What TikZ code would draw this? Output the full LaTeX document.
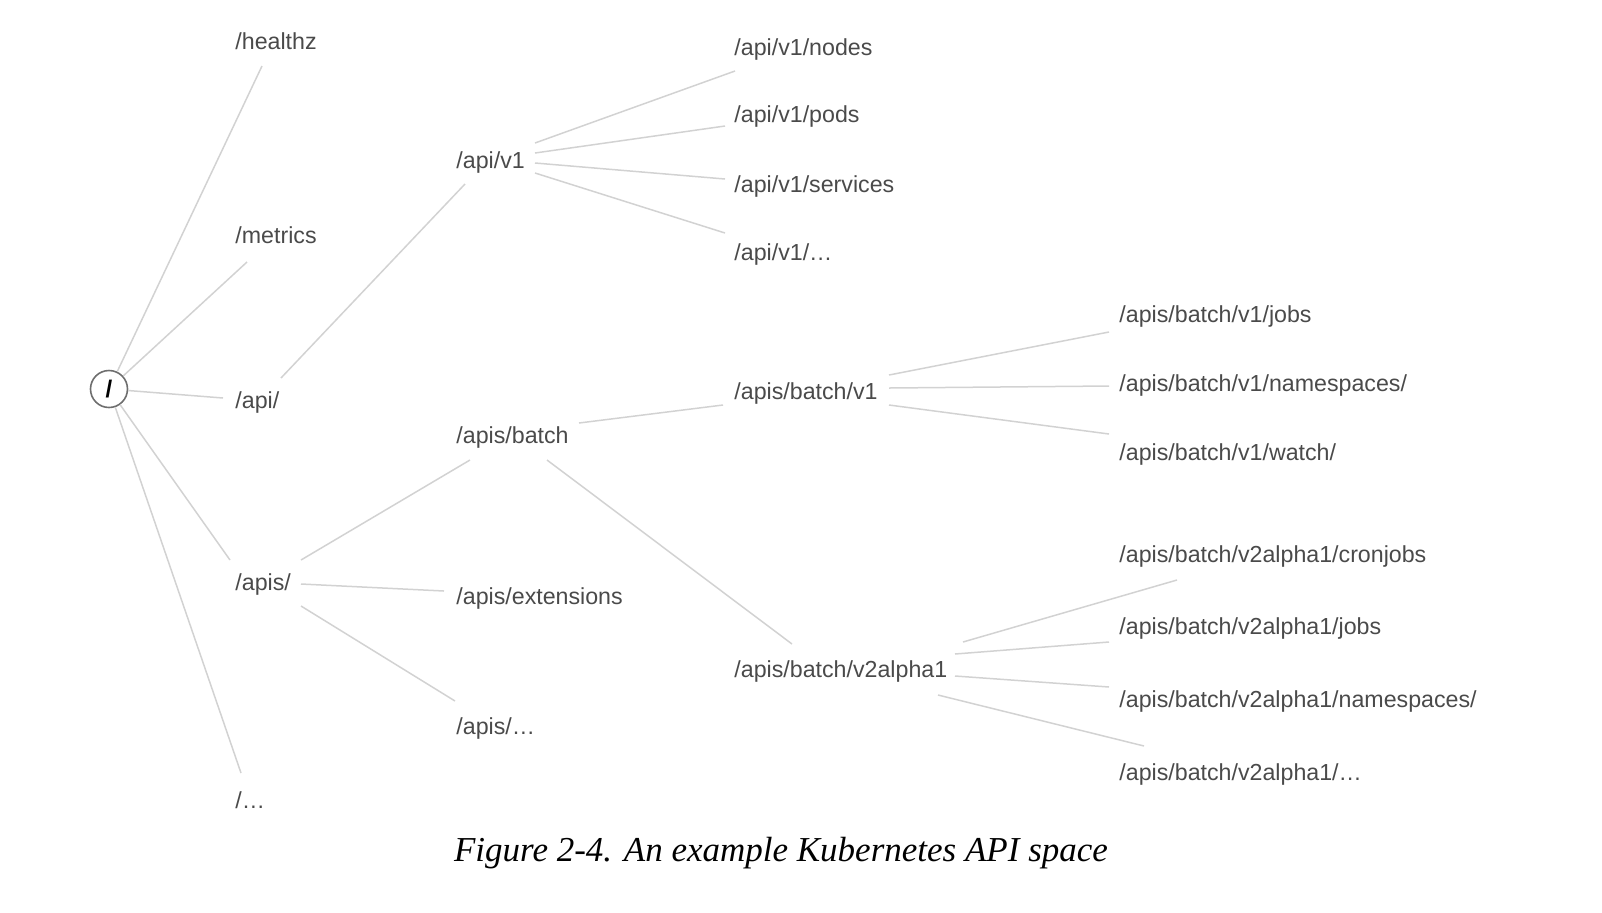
\documentclass[tikz,border=0pt]{standalone}
\usepackage{fontspec}
\setmainfont{Liberation Serif}
\setsansfont{Liberation Sans}
\usepackage{xcolor}
\definecolor{k8sink}{HTML}{4A4A4A}
\definecolor{k8sline}{HTML}{D2D2D2}
\definecolor{k8sring}{HTML}{6E6E6E}
\usepackage{tikz}
\usetikzlibrary{calc}
\tikzset{
  k8sroot/.style={draw=k8sring,line width=0.8pt,circle,fill=white,minimum size=18.5pt,inner sep=0pt,font=\sffamily\bfseries\fontsize{12}{12}\selectfont},
  k8spath/.style={anchor=base west,inner sep=0pt,text=k8sink,font=\sffamily\fontsize{11.6}{13}\selectfont},
  k8slink/.style={draw=k8sline,line width=0.75pt},
  k8scap/.style={anchor=base,inner sep=0pt,font=\itshape\fontsize{17.5}{20}\selectfont},
}

\begin{document}
\begin{tikzpicture}[x=0.5pt,y=-0.5pt]
\useasboundingbox (0,0) rectangle (1602,912);
% root and first level
\node[k8sroot] (root) at (109,389) {/};
\node[k8spath] (healthz) at (235,49) {/healthz};
\node[k8spath] (metrics) at (235,243) {/metrics};
\node[k8spath] (api) at (235,408) {/api/};
\node[k8spath] (apis) at (235,590) {/apis/};
\node[k8spath] (rootmore) at (235,808) {/\ldots};
% second level
\node[k8spath] (apiv1) at (456,168) {/api/v1};
\node[k8spath] (batch) at (456,443) {/apis/batch};
\node[k8spath] (ext) at (456,604) {/apis/extensions};
\node[k8spath] (apismore) at (456,734) {/apis/\ldots};
% third level
\node[k8spath] (nodes) at (734,55) {/api/v1/nodes};
\node[k8spath] (pods) at (734,122) {/api/v1/pods};
\node[k8spath] (services) at (734,192) {/api/v1/services};
\node[k8spath] (v1more) at (734,260) {/api/v1/\ldots};
\node[k8spath] (bv1) at (734,399) {/apis/batch/v1};
\node[k8spath] (bv2) at (734,677) {/apis/batch/v2alpha1};
% leaves
\node[k8spath] (jobs) at (1119,322) {/apis/batch/v1/jobs};
\node[k8spath] (ns) at (1119,391) {/apis/batch/v1/namespaces/};
\node[k8spath] (watch) at (1119,460) {/apis/batch/v1/watch/};
\node[k8spath] (cron) at (1119,562) {/apis/batch/v2alpha1/cronjobs};
\node[k8spath] (jobstwo) at (1119,634) {/apis/batch/v2alpha1/jobs};
\node[k8spath] (nstwo) at (1119,707) {/apis/batch/v2alpha1/namespaces/};
\node[k8spath] (v2more) at (1119,780) {/apis/batch/v2alpha1/\ldots};
\node[k8scap] (caption) at (781,861) {Figure 2-4. An example Kubernetes API space};
% links
\draw[k8slink](root)--($(healthz.base west)+(27,17)$);
\draw[k8slink](root)--($(metrics.base west)+(12,19)$);
\draw[k8slink](root)--($(api.base west)+(-12,-10)$);
\draw[k8slink](root)--($(apis.base west)+(-5,-30)$);
\draw[k8slink](root)--($(rootmore.base west)+(6,-35)$);
\draw[k8slink]($(api.base west)+(46,-30)$)--($(apiv1.base west)+(9,16)$);
\draw[k8slink]($(apiv1.base west)+(79,-25)$)--($(nodes.base west)+(1,16)$);
\draw[k8slink]($(apiv1.base west)+(79,-15)$)--($(pods.base west)+(-9,4)$);
\draw[k8slink]($(apiv1.base west)+(79,-5)$)--($(services.base west)+(-9,-13)$);
\draw[k8slink]($(apiv1.base west)+(79,5)$)--($(v1more.base west)+(-9,-27)$);
\draw[k8slink]($(apis.base west)+(66,-30)$)--($(batch.base west)+(14,17)$);
\draw[k8slink]($(apis.base west)+(66,-6)$)--($(ext.base west)+(-12,-13)$);
\draw[k8slink]($(apis.base west)+(66,16)$)--($(apismore.base west)+(-1,-33)$);
\draw[k8slink]($(batch.base west)+(123,-20)$)--($(bv1.base west)+(-11,6)$);
\draw[k8slink]($(batch.base west)+(91,17)$)--($(bv2.base west)+(58,-33)$);
\draw[k8slink]($(bv1.base west)+(155,-24)$)--($(jobs.base west)+(-10,10)$);
\draw[k8slink]($(bv1.base west)+(155,-11)$)--($(ns.base west)+(-10,-5)$);
\draw[k8slink]($(bv1.base west)+(155,6)$)--($(watch.base west)+(-10,-26)$);
\draw[k8slink]($(bv2.base west)+(229,-35)$)--($(cron.base west)+(58,18)$);
\draw[k8slink]($(bv2.base west)+(221,-23)$)--($(jobstwo.base west)+(-10,8)$);
\draw[k8slink]($(bv2.base west)+(221,-1)$)--($(nstwo.base west)+(-10,-20)$);
\draw[k8slink]($(bv2.base west)+(204,18)$)--($(v2more.base west)+(25,-34)$);
\end{tikzpicture}
\end{document}
